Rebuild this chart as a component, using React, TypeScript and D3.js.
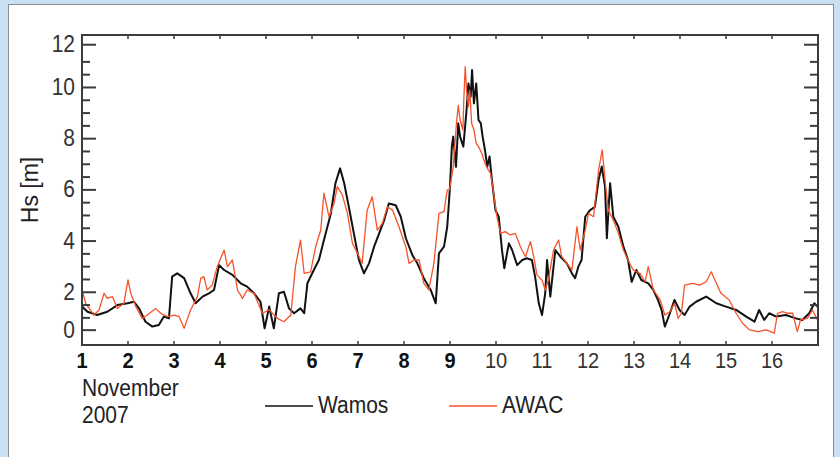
import React, { useEffect, useRef } from 'react';
import * as d3 from 'd3';

// Hs, day of November 2007
const wamosDays = [
  1.0, 1.12, 1.33, 1.55, 1.77, 1.99, 2.13, 2.24, 2.38, 2.53, 2.67, 2.78, 2.89, 2.96, 3.07, 3.22, 3.36, 3.47,
  3.62, 3.76, 3.87, 3.98, 4.09, 4.27, 4.45, 4.59, 4.74, 4.88, 4.97, 5.07, 5.17, 5.28, 5.39, 5.5, 5.61, 5.75,
  5.83, 5.9, 6.04, 6.15, 6.26, 6.41, 6.51, 6.61, 6.7, 6.8, 6.91, 7.02, 7.13, 7.24, 7.35, 7.46, 7.57, 7.67,
  7.82, 7.93, 8.04, 8.18, 8.29, 8.43, 8.58, 8.69, 8.76, 8.87, 8.94, 9.0, 9.04, 9.07, 9.13, 9.18, 9.22, 9.29,
  9.36, 9.4, 9.45, 9.48, 9.52, 9.57, 9.62, 9.67, 9.71, 9.76, 9.81, 9.86, 9.91, 9.99, 10.06, 10.13, 10.18,
  10.28, 10.35, 10.46, 10.57, 10.67, 10.78, 10.85, 10.93, 11.0, 11.07, 11.11, 11.18, 11.29, 11.4, 11.54,
  11.65, 11.72, 11.79, 11.86, 11.94, 12.04, 12.15, 12.23, 12.3, 12.37, 12.41, 12.48, 12.55, 12.66, 12.77,
  12.87, 12.95, 13.05, 13.16, 13.31, 13.42, 13.52, 13.6, 13.67, 13.78, 13.88, 13.99, 14.1, 14.21, 14.35,
  14.57, 14.79, 15.0, 15.22, 15.44, 15.62, 15.72, 15.83, 15.94, 16.09, 16.3, 16.52, 16.66, 16.81, 16.92, 16.99,
];
const wamosHs = [
  1.44, 1.24, 1.11, 1.24, 1.5, 1.57, 1.63, 1.37, 0.85, 0.66, 0.72, 1.05, 0.98, 2.61, 2.74, 2.55, 1.96, 1.57,
  1.83, 1.96, 2.09, 3.06, 2.87, 2.68, 2.35, 2.22, 1.96, 1.63, 0.59, 1.44, 0.59, 1.96, 2.02, 1.37, 1.18, 1.37,
  1.18, 2.35, 2.87, 3.26, 4.04, 5.08, 6.26, 6.84, 6.26, 5.34, 4.3, 3.26, 2.74, 3.13, 3.78, 4.3, 4.82, 5.47,
  5.4, 4.95, 4.11, 3.46, 3.13, 2.55, 2.09, 1.57, 3.52, 3.78, 4.56, 6.12, 7.69, 8.08, 6.9, 8.6, 8.07, 7.69,
  9.12, 10.16, 9.64, 10.68, 9.38, 10.16, 8.73, 8.6, 8.07, 7.56, 6.9, 7.3, 6.4, 5.2, 4.95, 3.65, 2.94,
  3.91, 3.65, 3.06, 3.26, 3.33, 3.26, 2.61, 1.57, 1.11, 1.96, 3.26, 1.83, 3.65, 3.39, 3.13,
  2.74, 2.55, 3.0, 3.26, 4.95, 5.2, 5.34, 6.39, 6.91, 6.13, 4.11, 6.26, 4.95, 4.56, 3.78,
  3.26, 2.41, 2.87, 2.48, 2.35, 2.09, 1.7, 1.31, 0.66, 1.18, 1.7, 1.31, 1.11, 1.44, 1.63,
  1.83, 1.57, 1.44, 1.31, 1.05, 0.85, 1.31, 0.92, 1.18, 1.05, 1.11, 0.98, 0.92, 1.18, 1.57, 1.44,
];

const awacDays = [
  1.0, 1.08, 1.26, 1.37, 1.48, 1.55, 1.66, 1.77, 1.91, 2.0, 2.06, 2.17, 2.31, 2.42, 2.6, 2.71, 2.86, 3.0,
  3.11, 3.22, 3.36, 3.51, 3.58, 3.65, 3.72, 3.83, 3.94, 4.09, 4.16, 4.27, 4.38, 4.49, 4.59, 4.74, 4.92, 5.07,
  5.25, 5.39, 5.54, 5.64, 5.75, 5.83, 5.97, 6.08, 6.19, 6.26, 6.37, 6.48, 6.55, 6.66, 6.77, 6.88, 6.99, 7.09,
  7.2, 7.31, 7.42, 7.53, 7.64, 7.75, 7.89, 8.04, 8.11, 8.22, 8.33, 8.43, 8.54, 8.65, 8.76, 8.87, 8.94, 8.99,
  9.07, 9.14, 9.18, 9.22, 9.28, 9.3, 9.33, 9.36, 9.4, 9.43, 9.47, 9.52, 9.57, 9.62, 9.69, 9.76, 9.83, 9.88,
  9.93, 9.97, 10.02, 10.1, 10.2, 10.31, 10.42, 10.53, 10.64, 10.75, 10.82, 10.89, 11.0, 11.07, 11.14, 11.25,
  11.36, 11.43, 11.54, 11.65, 11.76, 11.83, 11.94, 12.01, 12.12, 12.23, 12.31, 12.37, 12.44, 12.55, 12.66,
  12.77, 12.87, 12.98, 13.13, 13.24, 13.31, 13.42, 13.57, 13.67, 13.78, 13.88, 13.96, 14.03, 14.1, 14.28,
  14.43, 14.57, 14.68, 14.79, 14.89, 15.07, 15.22, 15.36, 15.51, 15.69, 15.87, 16.05, 16.12, 16.23, 16.34,
  16.45, 16.55, 16.62, 16.77, 16.88, 16.99,
];
const awacHs = [
  2.1, 1.57, 1.11, 1.31, 1.96, 1.76, 1.83, 1.37, 1.57, 2.48, 1.96, 1.44, 0.98, 1.11, 1.37, 1.18, 1.05, 1.11,
  1.05, 0.59, 1.31, 1.83, 2.54, 2.61, 2.09, 2.28, 3.0, 3.65, 3.0, 3.26, 2.09, 1.76, 2.09, 1.96, 1.18, 1.31,
  0.98, 0.85, 1.11, 3.0, 4.04, 2.74, 2.8, 3.78, 4.43, 5.87, 4.95, 5.47, 6.13, 5.8, 5.08, 3.91, 3.52, 3.13,
  5.21, 5.73, 4.43, 4.69, 5.34, 5.21, 4.56, 3.78, 3.13, 3.26, 3.26, 2.35, 2.09, 3.13, 5.08, 5.15, 6.0, 6.0,
  6.9, 8.6, 9.3, 8.73, 8.34, 9.5, 10.81, 9.9, 9.25, 9.9, 8.6, 8.34, 7.82, 7.69, 7.43, 7.04, 6.78, 6.65,
  6.12, 5.6, 4.95, 4.3, 4.37, 4.24, 4.3, 3.78, 3.39, 3.98, 3.39, 2.68, 2.48, 2.09, 2.48, 3.65,
  4.04, 3.39, 3.13, 2.87, 4.56, 3.65, 4.43, 5.08, 4.95, 6.78, 7.56, 6.39, 5.21, 4.82, 4.3,
  3.65, 3.26, 2.87, 2.74, 2.41, 3.0, 2.09, 1.7, 1.11, 1.24, 1.57, 0.98, 1.18, 2.28, 2.35,
  2.28, 2.41, 2.8, 2.35, 1.96, 1.7, 1.18, 0.79, 0.53, 0.46, 0.53, 0.4, 1.18, 1.24, 1.18,
  1.18, 0.46, 0.92, 0.98, 1.31, 0.92,
];

const dayTicks = [1, 2, 3, 4, 5, 6, 7, 8, 9, 10, 11, 12, 13, 14, 15, 16];
const hsMajorTicks = [2, 4, 6, 8, 10];
const hsMinorTicks = [1, 1.5, 2.5, 3, 3.5, 4.5, 5, 5.5, 6.5, 7, 7.5, 8.5, 9, 9.5, 10.5, 11];
// the end labels sit a little inside the frame in the original
const hsEndTicks = [
  { label: '0', value: 0.52 },
  { label: '12', value: 11.67 },
];

const W = 840;
const H = 457;
const FONT = '"Liberation Sans", Arial, sans-serif';
const AXIS = '#3c3c3c';
const ORANGE = '#f6532a';

export default function App() {
  const ref = useRef<SVGSVGElement>(null);

  useEffect(() => {
    const margin = { top: 35, right: 22, bottom: 112, left: 82 };
    const width = W - margin.left - margin.right;
    const height = H - margin.top - margin.bottom;

    const svg = d3.select(ref.current);
    svg.selectAll('*').remove();

    svg.append('rect').attr('width', W).attr('height', H).attr('fill', '#c9dff3');
    svg
      .append('rect')
      .attr('x', 8.5)
      .attr('y', 4.5)
      .attr('width', 825)
      .attr('height', 480)
      .attr('fill', '#fff')
      .attr('stroke', '#8c8c8c');

    const g = svg.append('g').attr('transform', `translate(${margin.left}, ${margin.top})`);

    const x = d3.scaleLinear().domain([1, 17]).range([0, width]);
    const y = d3.scaleLinear().domain([-0.06, 12.05]).range([height, 0]);

    const text = (
      parent: any,
      tx: number,
      ty: number,
      str: string,
      size: number,
      anchor = 'start',
      weight = 'normal',
      fill = '#222'
    ) =>
      parent
        .append('text')
        .attr('transform', `translate(${tx}, ${ty}) scale(1, 1.12)`)
        .attr('text-anchor', anchor)
        .style('font-family', FONT)
        .style('font-size', `${size}px`)
        .style('font-weight', weight)
        .style('fill', fill)
        .text(str);

    g.append('clipPath')
      .attr('id', 'plot-clip')
      .append('rect')
      .attr('width', width)
      .attr('height', height);

    const line = d3
      .line<[number, number]>()
      .x((d) => x(d[0]))
      .y((d) => y(d[1]));

    const lines = g.append('g').attr('clip-path', 'url(#plot-clip)');
    lines
      .append('path')
      .datum(d3.zip(wamosDays, wamosHs) as [number, number][])
      .attr('d', line)
      .attr('fill', 'none')
      .attr('stroke', '#111')
      .attr('stroke-width', 2)
      .attr('stroke-linejoin', 'round');
    lines
      .append('path')
      .datum(d3.zip(awacDays, awacHs) as [number, number][])
      .attr('d', line)
      .attr('fill', 'none')
      .attr('stroke', ORANGE)
      .attr('stroke-width', 1.3)
      .attr('stroke-linejoin', 'round');

    // frame
    g.append('rect')
      .attr('width', width)
      .attr('height', height)
      .attr('fill', 'none')
      .attr('stroke', AXIS)
      .attr('stroke-width', 2);

    // y ticks, both sides, pointing in
    const yTick = (v: number, len: number) => {
      g.append('line')
        .attr('x1', 0).attr('x2', len)
        .attr('y1', y(v)).attr('y2', y(v))
        .attr('stroke', AXIS).attr('stroke-width', 2);
      g.append('line')
        .attr('x1', width).attr('x2', width - len)
        .attr('y1', y(v)).attr('y2', y(v))
        .attr('stroke', AXIS).attr('stroke-width', 2);
    };
    hsMinorTicks.forEach((v) => yTick(v, 8));
    hsMajorTicks.forEach((v) => {
      yTick(v, 14);
      text(g, -7, y(v) + 7.5, String(v), 21, 'end', 'normal', '#333');
    });
    hsEndTicks.forEach((t) => {
      yTick(t.value, 14);
      text(g, -7, y(t.value) + 7.5, t.label, 21, 'end', 'normal', '#333');
    });

    // x ticks, top and bottom
    dayTicks.forEach((d) => {
      g.append('line')
        .attr('x1', x(d)).attr('x2', x(d))
        .attr('y1', 0).attr('y2', 4)
        .attr('stroke', AXIS).attr('stroke-width', 1.5);
      g.append('line')
        .attr('x1', x(d)).attr('x2', x(d))
        .attr('y1', height).attr('y2', height - 4)
        .attr('stroke', AXIS).attr('stroke-width', 1.5);
      const single = d < 10;
      text(g, x(d), height + 23, String(d), 20, 'middle', single ? 'bold' : 'normal', single ? '#111' : '#333');
    });

    // y label
    g.append('text')
      .attr('transform', `translate(${38 - margin.left}, ${190 - margin.top}) rotate(-90)`)
      .attr('text-anchor', 'middle')
      .style('font-family', FONT)
      .style('font-size', '23px')
      .style('fill', '#222')
      .text('Hs [m]');

    text(svg, 82, 396, 'November', 21);
    text(svg, 82, 423, '2007', 21);

    // legend
    svg.append('line').attr('x1', 265).attr('x2', 313).attr('y1', 406).attr('y2', 406)
      .attr('stroke', '#111').attr('stroke-width', 1.5);
    text(svg, 318, 413, 'Wamos', 21);
    svg.append('line').attr('x1', 449).attr('x2', 497).attr('y1', 406).attr('y2', 406)
      .attr('stroke', ORANGE).attr('stroke-width', 1.5);
    text(svg, 502, 413, 'AWAC', 21);
  }, []);

  return (
    <svg
      ref={ref}
      width={W}
      height={H}
      style={{ position: 'absolute', left: 0, top: 0, display: 'block' }}
    />
  );
}
